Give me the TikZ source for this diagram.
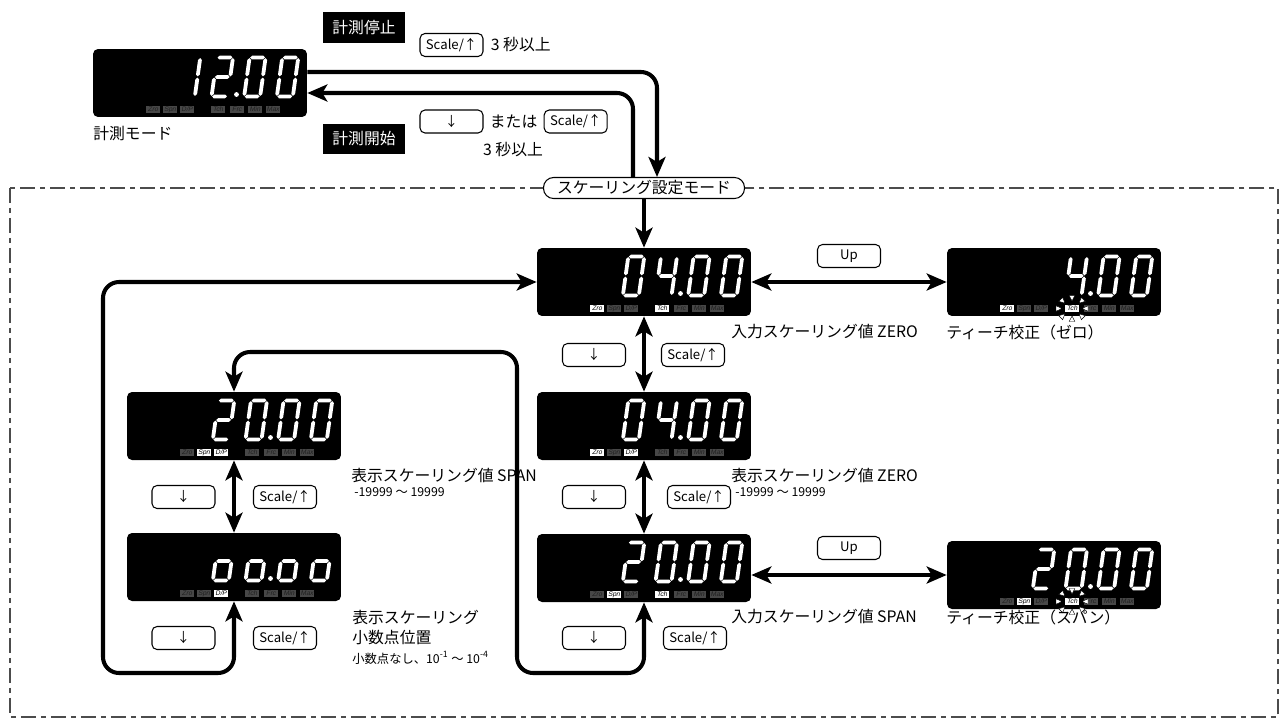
\documentclass[tikz,border=0pt]{standalone}
\usepackage{fontspec}
\setmainfont{Noto Sans CJK JP}
\newfontfamily\labfont[FakeSlant=0.2]{Liberation Sans}
\usetikzlibrary{arrows.meta,positioning}

\definecolor{ledfill1}{gray}{1}
\definecolor{ledtext1}{gray}{0}
\definecolor{ledfill0}{gray}{0.28}
\definecolor{ledtext0}{gray}{0.12}

% seven-segment digit, local units in px, y downwards
\newcommand\segh[1]{\fill[white] (0.6,#1) -- (2.5,#1-1.9) -- (13.5,#1-1.9) -- (15.4,#1) -- (13.5,#1+1.9) -- (2.5,#1+1.9) -- cycle;}
\newcommand\segv[3]{\fill[white] (#1,#2+0.6) -- (#1+1.9,#2+2.5) -- (#1+1.9,#3-2.5) -- (#1,#3-0.6) -- (#1-1.9,#3-2.5) -- (#1-1.9,#2+2.5) -- cycle;}
\newcommand\dsega{\segh{0}}
\newcommand\dsegb{\segv{16}{0}{19.5}}
\newcommand\dsegc{\segv{16}{19.5}{39}}
\newcommand\dsegd{\segh{39}}
\newcommand\dsege{\segv{0}{19.5}{39}}
\newcommand\dsegf{\segv{0}{0}{19.5}}
\newcommand\dsegg{\segh{19.5}}
\newcommand\digit[3]{\begin{scope}[shift={(#1,#2)}, xslant=0.14]
  \foreach \s in {#3} {\csname dseg\s\endcsname}
\end{scope}}
% four digits and the point, #1 #2 = top left of the display
\newcommand\dispdigits[6]{%
  \digit{#1+91.3}{#2+8.5}{#3}
  \digit{#1+124}{#2+8.5}{#4}
  \digit{#1+156.6}{#2+8.5}{#5}
  \digit{#1+189.3}{#2+8.5}{#6}
  \fill[white] (#1+143.5,#2+45.5) circle (0.048cm);}
% indicator row, 1 = lit
\newcommand\leds[9]{%
  \foreach \lab/\off/\on in {Zro/53/#3,Spn/70/#4,{D/P}/87/#5,Tch/118/#6,Frc/137/#7,Min/155/#8,Max/173/#9}
    \node[led, fill=ledfill\on, text=ledtext\on] at (#1+\off+7,#2+60.5) {\lab};}
% blinking marks round Tch
\newcommand\flash[2]{%
  \foreach \a in {0,45,...,315}
    \filldraw[fill=white, draw=black, line width=0.25pt]
      ({#1+125+10*cos(\a)},{#2+60.5+7.5*sin(\a)}) --
      ({#1+125+16*cos(\a)-2.8*sin(\a)},{#2+60.5+13*sin(\a)+2.8*cos(\a)}) --
      ({#1+125+16*cos(\a)+2.8*sin(\a)},{#2+60.5+13*sin(\a)-2.8*cos(\a)}) -- cycle;}

\begin{document}
\begin{tikzpicture}[x=0.02cm, y=-0.02cm,
  font=\fontsize{9}{11}\selectfont,
  >={Stealth[length=0.4cm, width=0.34cm, inset=0.1cm]},
  flow/.style={line width=2.3pt, rounded corners=0.32cm},
  display/.style={fill=black, rounded corners=0.1cm, minimum width=4.28cm, minimum height=1.36cm, inner sep=0},
  btn/.style={draw, fill=white, rounded corners=0.1cm, line width=0.6pt, minimum width=1.26cm, minimum height=0.46cm, inner sep=0, font=\fontsize{7.5}{8}\selectfont},
  tag/.style={fill=black, text=white, minimum width=1.64cm, minimum height=0.62cm, inner sep=0},
  modebox/.style={draw, fill=white, rounded corners=0.2cm, line width=0.6pt, minimum width=4.02cm, minimum height=0.42cm, inner sep=0},
  note/.style={anchor=west, inner sep=0},
  small/.style={anchor=west, inner sep=0, font=\fontsize{7}{8}\selectfont},
  led/.style={inner sep=0, minimum width=0.28cm, minimum height=0.14cm, font=\labfont\fontsize{3.8}{4}\selectfont},
  frame/.style={draw=black!70, line width=0.6pt, dash pattern=on 0.3cm off 0.1cm on 0.1cm off 0.1cm}
]
\useasboundingbox (0,0) rectangle (1287,720);

% scaling area
\draw[frame] (10,188) rectangle (1278,717);
\node[modebox] (mode) at (644,188) {スケーリング設定モード};

% displays
\node[display] (meas) at (200,83) {};
\dispdigits{93}{49}{b,c}{a,b,g,e,d}{a,b,c,d,e,f}{a,b,c,d,e,f}
\leds{93}{49}{0}{0}{0}{0}{0}{0}{0}

\node[display] (zin) at (644,282) {};
\dispdigits{537}{248}{a,b,c,d,e,f}{f,g,b,c}{a,b,c,d,e,f}{a,b,c,d,e,f}
\leds{537}{248}{1}{0}{0}{1}{0}{0}{0}

\node[display] (tzero) at (1054,282) {};
\dispdigits{947}{248}{}{f,g,b,c}{a,b,c,d,e,f}{a,b,c,d,e,f}
\leds{947}{248}{1}{0}{0}{1}{0}{0}{0}
\flash{947}{248}

\node[display] (span) at (234,426) {};
\dispdigits{127}{392}{a,b,g,e,d}{a,b,c,d,e,f}{a,b,c,d,e,f}{a,b,c,d,e,f}
\leds{127}{392}{0}{1}{1}{0}{0}{0}{0}

\node[display] (dp) at (234,567) {};
\dispdigits{127}{533}{g,c,d,e}{g,c,d,e}{g,c,d,e}{g,c,d,e}
\leds{127}{533}{0}{0}{1}{0}{0}{0}{0}

\node[display] (dzero) at (644,426) {};
\dispdigits{537}{392}{a,b,c,d,e,f}{f,g,b,c}{a,b,c,d,e,f}{a,b,c,d,e,f}
\leds{537}{392}{1}{0}{1}{0}{0}{0}{0}

\node[display] (sin) at (644,568) {};
\dispdigits{537}{534}{a,b,g,e,d}{a,b,c,d,e,f}{a,b,c,d,e,f}{a,b,c,d,e,f}
\leds{537}{534}{0}{1}{0}{1}{0}{0}{0}

\node[display] (tspan) at (1054,575) {};
\dispdigits{947}{541}{a,b,g,e,d}{a,b,c,d,e,f}{a,b,c,d,e,f}{a,b,c,d,e,f}
\leds{947}{541}{0}{1}{0}{1}{0}{0}{0}
\flash{947}{541}

% measuring mode
\node[note] (measlbl) at (93,134) {計測モード};
\node[tag] (stop) at (364,27.5) {計測停止};
\node[tag] (start) at (364,139) {計測開始};
\node[btn] (bscale0) at (451.5,45) {Scale/↑};
\node[note, right=0.14cm of bscale0] (sec0) {3 秒以上};
\node[btn] (bdown0) at (451.5,121.5) {↓};
\node[note, right=0.12cm of bdown0] (or0) {または};
\node[btn, right=0.12cm of or0] (bscale1) {Scale/↑};
\node[inner sep=0] (sec1) at (513,150) {3 秒以上};

% keys
\node[btn] (bup0) at (849,256) {Up};
\node[btn] (bup1) at (849,548) {Up};
\node[btn] (bd1) at (594,355) {↓};
\node[btn] (bs1) at (693,355) {Scale/↑};
\node[btn] (bd2) at (594,497) {↓};
\node[btn] (bs2) at (699,497) {Scale/↑};
\node[btn] (bd3) at (594,638) {↓};
\node[btn] (bs3) at (695,638) {Scale/↑};
\node[btn] (bd4) at (183.5,497) {↓};
\node[btn] (bs4) at (285,497) {Scale/↑};
\node[btn] (bd5) at (183.5,638) {↓};
\node[btn] (bs5) at (285,638) {Scale/↑};

% captions
\node[note] (czin) at (731,332) {入力スケーリング値 ZERO};
\node[note] (ctzero) at (946,332) {ティーチ校正（ゼロ）};
\node[note] (cspan) at (351,475) {表示スケーリング値 SPAN};
\node[small] (rspan) at (354,492.5) {-19999 ～ 19999};
\node[note] (cdzero) at (731,475) {表示スケーリング値 ZERO};
\node[small] (rdzero) at (735,492.5) {-19999 ～ 19999};
\node[note] (cdp) at (352,617) {表示スケーリング};
\node[note] (cdp2) at (352,637) {小数点位置};
\node[small] (rdp) at (352,658) {小数点なし、10\textsuperscript{-1} ～ 10\textsuperscript{-4}};
\node[note] (csin) at (731,617) {入力スケーリング値 SPAN};
\node[note] (ctspan) at (946,617) {ティーチ校正（スパン）};

% connectors
\coordinate (lpL) at (103,673);
\coordinate (lpM) at (517,673);
\coordinate (lpT) at (517,352);

\draw[flow,->] ([yshift=0.22cm]meas.east) -| ([xshift=0.26cm]mode.north);
\draw[flow,->] ([xshift=-0.22cm]mode.north) |- ([yshift=-0.2cm]meas.east);
\draw[flow,->] (mode.south) -- (zin.north);
\draw[flow,<->] (zin.east) -- (tzero.west);
\draw[flow,<->] (tspan.west -| sin.east) -- (tspan.west);
\draw[flow,<->] (zin.south) -- (dzero.north);
\draw[flow,<->] (dzero.south) -- (sin.north);
\draw[flow,<->] (span.south) -- (dp.north);
\draw[flow,<->] (dp.south) |- (lpL) |- (zin.west);
\draw[flow,<->] (sin.south) |- (lpM) -- (lpT) -| (span.north);
\end{tikzpicture}
\end{document}
